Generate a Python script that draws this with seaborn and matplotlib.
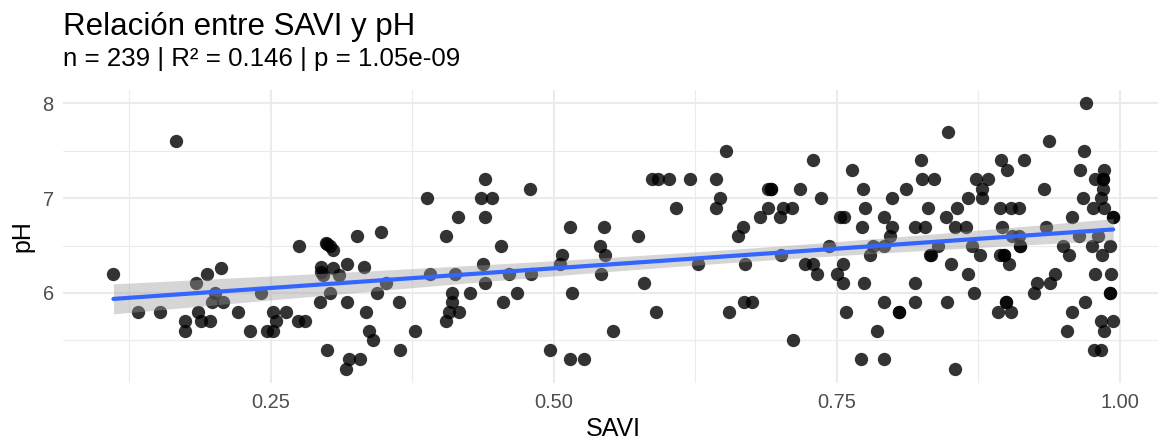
import numpy as np
import pandas as pd
import seaborn as sns
import matplotlib.pyplot as plt

# ---- data ----
savi = [
    0.166, 0.111, 0.206, 0.194, 0.184, 0.201, 0.198, 0.208, 0.241, 0.133, 0.152, 0.186, 0.174, 0.188, 0.196, 0.174, 0.221, 0.232, 0.247,
    0.252, 0.263, 0.255, 0.252, 0.274, 0.280, 0.275, 0.300, 0.302, 0.305, 0.294, 0.294, 0.296, 0.305, 0.310, 0.317, 0.326, 0.332, 0.347,
    0.302, 0.293, 0.317, 0.334, 0.344, 0.352, 0.363, 0.337, 0.340, 0.377, 0.300, 0.319, 0.329, 0.316, 0.364, 0.388, 0.391, 0.299,
    0.405, 0.415, 0.439, 0.436, 0.445, 0.439, 0.479, 0.453, 0.437, 0.439, 0.413, 0.410, 0.410, 0.407, 0.416, 0.405, 0.426, 0.460,
    0.455, 0.467, 0.480, 0.497, 0.514, 0.527, 0.505, 0.507, 0.514, 0.516, 0.544, 0.541, 0.545, 0.542, 0.552,
    0.652, 0.587, 0.592, 0.602, 0.620, 0.643, 0.647, 0.608, 0.643, 0.689, 0.692, 0.692, 0.717, 0.689, 0.682, 0.702, 0.710, 0.700,
    0.667, 0.663, 0.574, 0.627, 0.669, 0.701, 0.580, 0.590, 0.655, 0.668, 0.675, 0.711,
    0.729, 0.736, 0.763, 0.773, 0.775, 0.753, 0.756, 0.772, 0.792, 0.799, 0.797, 0.799, 0.811, 0.824, 0.825, 0.836, 0.848, 0.830,
    0.819, 0.828, 0.846, 0.856, 0.854, 0.864, 0.866,
    0.743, 0.722, 0.729, 0.732, 0.755, 0.750, 0.755, 0.782, 0.779, 0.792, 0.774, 0.833, 0.832, 0.839, 0.851, 0.866, 0.869, 0.819,
    0.792, 0.805, 0.805, 0.819, 0.847, 0.871, 0.758, 0.785, 0.771, 0.792, 0.854,
    0.970, 0.937, 0.968, 0.895, 0.900, 0.915, 0.965, 0.986, 0.873, 0.883, 0.878, 0.978, 0.985, 0.985, 0.985, 0.933, 0.878, 0.967,
    0.983, 0.894, 0.904, 0.911, 0.976, 0.986, 0.994, 0.994, 0.958, 0.896, 0.935, 0.905, 0.911, 0.912, 0.912, 0.964, 0.981, 0.950,
    0.955, 0.975, 0.991, 0.984, 0.876, 0.894, 0.898, 0.898, 0.902, 0.943, 0.927, 0.938, 0.924, 0.978, 0.992, 0.991, 0.991, 0.899,
    0.899, 0.892, 0.904, 0.969, 0.958, 0.953, 0.983, 0.994, 0.986, 0.977, 0.983,
]
ph = [
    7.6, 6.2, 6.26, 6.2, 6.1, 6.0, 5.9, 5.9, 6.0, 5.8, 5.8, 5.8, 5.7, 5.7, 5.7, 5.6, 5.8, 5.6, 5.6,
    5.8, 5.8, 5.7, 5.6, 5.7, 5.7, 6.5, 6.52, 6.5, 6.45, 6.27, 6.22, 6.19, 6.26, 6.19, 6.3, 6.6, 6.27, 6.64,
    6.0, 5.9, 5.9, 5.8, 6.0, 6.1, 5.9, 5.6, 5.5, 5.6, 5.4, 5.3, 5.3, 5.2, 5.4, 7.0, 6.2, 6.53,
    6.6, 6.8, 7.2, 7.0, 7.0, 6.8, 7.1, 6.5, 6.3, 6.1, 6.2, 6.0, 5.9, 5.8, 5.8, 5.7, 6.0, 6.2,
    5.9, 6.0, 6.2, 5.4, 5.3, 5.3, 6.3, 6.4, 6.7, 6.0, 6.7, 6.5, 6.4, 6.2, 5.6,
    7.5, 7.2, 7.2, 7.2, 7.2, 7.2, 7.0, 6.9, 6.9, 7.1, 7.1, 7.1, 7.1, 6.9, 6.8, 6.9, 6.9, 6.8,
    6.7, 6.6, 6.6, 6.3, 6.3, 6.4, 6.1, 5.8, 5.8, 5.9, 5.9, 5.5,
    7.4, 7.0, 7.3, 7.1, 6.9, 6.8, 6.8, 6.7, 6.8, 6.7, 6.6, 7.0, 7.1, 7.4, 7.2, 7.2, 7.7, 6.9,
    6.7, 6.7, 6.8, 6.9, 6.7, 6.7, 7.0,
    6.5, 6.3, 6.3, 6.2, 6.3, 6.2, 6.1, 6.5, 6.4, 6.5, 6.1, 6.4, 6.4, 6.5, 6.3, 6.2, 6.5, 6.1,
    5.9, 5.8, 5.8, 5.9, 5.9, 6.0, 5.8, 5.6, 5.3, 5.3, 5.2,
    8.0, 7.6, 7.5, 7.4, 7.3, 7.4, 7.3, 7.3, 7.2, 7.2, 7.1, 7.2, 7.2, 7.2, 7.1, 7.1, 7.0, 7.0,
    7.0, 6.9, 6.9, 6.9, 6.9, 6.9, 6.8, 6.8, 6.8, 6.7, 6.7, 6.6, 6.6, 6.5, 6.5, 6.6, 6.6, 6.5,
    6.4, 6.5, 6.5, 6.4, 6.4, 6.4, 6.4, 6.4, 6.3, 6.2, 6.1, 6.1, 6.0, 6.2, 6.2, 6.0, 6.0, 5.9,
    5.9, 5.8, 5.8, 5.9, 5.8, 5.6, 5.7, 5.7, 5.6, 5.4, 5.4,
]
x_major = [0.25, 0.50, 0.75, 1.00]
x_labels = ["0.25", "0.50", "0.75", "1.00"]
x_minor = [0.125, 0.375, 0.625, 0.875]
y_major = [6, 7, 8]
y_labels = ["6", "7", "8"]
y_minor = [5.5, 6.5, 7.5]
title = "Relación entre SAVI y pH"
subtitle = "n = 239 | R² = 0.146 | p = 1.05e-09"

# ---- style ----
sns.set_theme(style="white")
plt.rcParams["font.family"] = ["Liberation Sans", "DejaVu Sans"]

W, H = 1158, 442
fig = plt.figure(figsize=(W / 100, H / 100), dpi=100)
left, right, top, bottom = 63.4, 1163.0, 90.0, 383.0
ax = fig.add_axes([left / W, 1 - bottom / H, (right - left) / W, (bottom - top) / H])

df = pd.DataFrame({"SAVI": savi, "pH": ph})

# points
sns.scatterplot(data=df, x="SAVI", y="pH", ax=ax, color="black", alpha=0.8,
                s=92, linewidth=0, zorder=2, legend=False)

# 95% confidence band of the OLS fit (grey, like ggplot)
xv = df["SAVI"].to_numpy()
yv = df["pH"].to_numpy()
n = len(xv)
slope, icpt = np.polyfit(xv, yv, 1)
grid = np.linspace(xv.min(), xv.max(), 120)
resid = yv - (icpt + slope * xv)
s_err = np.sqrt(resid @ resid / (n - 2))
se = s_err * np.sqrt(1 / n + (grid - xv.mean()) ** 2 / ((xv - xv.mean()) ** 2).sum())
fit = icpt + slope * grid
ax.fill_between(grid, fit - 1.97 * se, fit + 1.97 * se, color="#999999",
                alpha=0.4, linewidth=0, zorder=3)

# regression line
sns.regplot(data=df, x="SAVI", y="pH", ax=ax, scatter=False, ci=None,
            truncate=True, color="#3366FF", line_kws={"linewidth": 3, "zorder": 4})

# axes
ax.set_xlim(0.0668, 1.038)
ax.set_ylim(5.05, 8.14)
ax.set_xticks(x_major)
ax.set_xticklabels(x_labels)
ax.set_xticks(x_minor, minor=True)
ax.set_yticks(y_major)
ax.set_yticklabels(y_labels)
ax.set_yticks(y_minor, minor=True)
ax.grid(which="major", color="#EBEBEB", linewidth=1.5)
ax.grid(which="minor", color="#EBEBEB", linewidth=0.8)
ax.set_axisbelow(True)
for sp in ax.spines.values():
    sp.set_visible(False)
ax.tick_params(which="both", length=0)
ax.tick_params(axis="x", labelsize=14.4, labelcolor="#4D4D4D", pad=7)
ax.tick_params(axis="y", labelsize=14.4, labelcolor="#4D4D4D", pad=7)
ax.set_xlabel("SAVI", fontsize=18, color="black", labelpad=4)
ax.set_ylabel("pH", fontsize=18, color="black", labelpad=6)

fig.text(63 / W, 1 - 35 / H, title, fontsize=22.5, color="black", va="baseline", ha="left")
fig.text(63 / W, 1 - 66 / H, subtitle, fontsize=18.6, color="black", va="baseline", ha="left")

fig.savefig("out.png", dpi=100)
